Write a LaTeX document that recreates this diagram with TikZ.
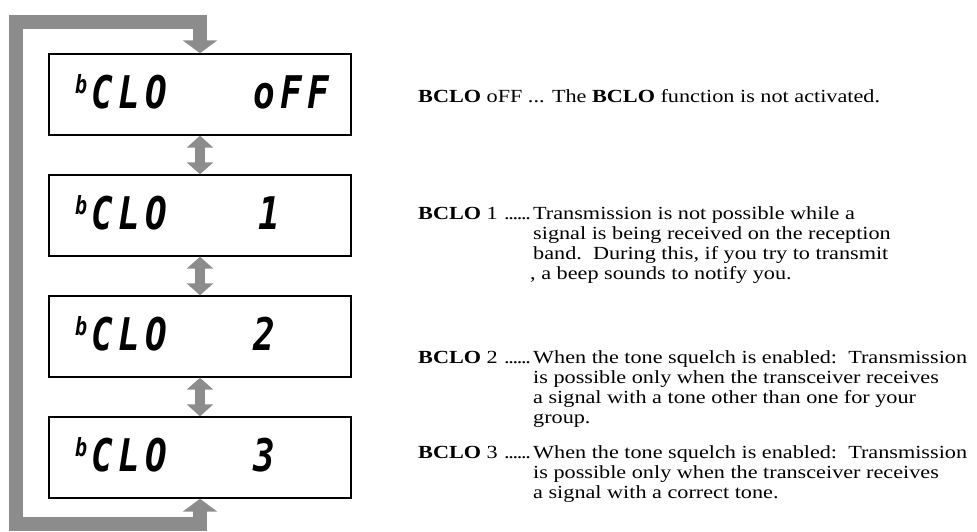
\documentclass[tikz,border=0pt]{standalone}
\usepackage{fontspec}
\setmainfont{Liberation Serif}[FakeStretch=1.2]
\newfontfamily\lcdfont{DejaVu Sans Mono}[FakeStretch=0.8]
\usetikzlibrary{arrows.meta,calc}
\newcommand\lcdslot[1]{\makebox[27pt][l]{#1}}
\newcommand\mydots{.\kern-1.3pt.\kern-1.3pt.\kern-1.3pt.\kern-1.3pt.\kern-1.3pt.}
\tikzset{
  lcdbox/.style={draw, line width=1.4pt, minimum width=302pt, minimum height=81pt, inner sep=0pt},
  lcdtxt/.style={inner sep=0pt, anchor=base west, font=\lcdfont\bfseries\itshape\fontsize{45}{45}\selectfont},
  lcdsmall/.style={inner sep=0pt, anchor=base west, font=\lcdfont\bfseries\itshape\fontsize{25}{25}\selectfont},
  desc/.style={inner sep=0pt, anchor=base west, font=\fontsize{18.5}{20}\selectfont},
  loopline/.style={draw=black!45, line width=14pt, line join=miter,
     {Triangle[width=34pt,length=13pt]}-{Triangle[width=34pt,length=13pt]}},
  dblarrow/.style={draw=black!45, line width=10pt,
     {Triangle[width=26pt,length=12pt]}-{Triangle[width=26pt,length=12pt]}}
}
\begin{document}
\begin{tikzpicture}[x=1pt,y=-1pt]
\useasboundingbox (0,0) rectangle (977,531);
% boxes
\node[lcdbox] (b1) at (200,94.5) {};
\node[lcdbox] (b2) at (200,215.5) {};
\node[lcdbox] (b3) at (200,336.5) {};
\node[lcdbox] (b4) at (200,457.5) {};
% LCD text
\node[lcdsmall] (s1) at (75,93) {b};
\node[lcdtxt] (t1) at (91,108) {\lcdslot{C}\lcdslot{L}\lcdslot{O}\lcdslot{}\lcdslot{}\lcdslot{}\lcdslot{o}\lcdslot{F}\lcdslot{F}};
\node[lcdsmall] (s2) at (75,214) {b};
\node[lcdtxt] (t2) at (91,229) {\lcdslot{C}\lcdslot{L}\lcdslot{O}\lcdslot{}\lcdslot{}\lcdslot{}\lcdslot{\hfill1}};
\node[lcdsmall] (s3) at (75,335) {b};
\node[lcdtxt] (t3) at (91,350) {\lcdslot{C}\lcdslot{L}\lcdslot{O}\lcdslot{}\lcdslot{}\lcdslot{}\lcdslot{2}};
\node[lcdsmall] (s4) at (75,456) {b};
\node[lcdtxt] (t4) at (91,471) {\lcdslot{C}\lcdslot{L}\lcdslot{O}\lcdslot{}\lcdslot{}\lcdslot{}\lcdslot{3}};
% connectors
\coordinate (lb) at (16,524);
\coordinate (lt) at (16,21.5);
\draw[loopline] (b4.south) |- (lb) -- (lt) -| (b1.north);
\draw[dblarrow] (b1.south) -- (b2.north);
\draw[dblarrow] (b2.south) -- (b3.north);
\draw[dblarrow] (b3.south) -- (b4.north);
% descriptions
\node[desc] (d0) at (418,102) {\textbf{BCLO} oFF ... The \textbf{BCLO} function is not activated.};
\node[desc] (h1) at (418,219) {\textbf{BCLO} 1};
\node[desc] (p1) at (504,219) {\mydots};
\node[desc] (d1a) at (533,219) {Transmission is not possible while a};
\node[desc] (d1b) at (533,239) {signal is being received on the reception};
\node[desc] (d1c) at (533,259) {band.\ \ During this, if you try to transmit};
\node[desc] (d1d) at (530,279) {, a beep sounds to notify you.};
\node[desc] (h2) at (418,363) {\textbf{BCLO} 2};
\node[desc] (p2) at (504,363) {\mydots};
\node[desc] (d2a) at (533,363) {When the tone squelch is enabled:\ \ Transmission};
\node[desc] (d2b) at (533,383) {is possible only when the transceiver receives};
\node[desc] (d2c) at (533,403) {a signal with a tone other than one for your};
\node[desc] (d2d) at (533,423) {group.};
\node[desc] (h3) at (418,458) {\textbf{BCLO} 3};
\node[desc] (p3) at (504,458) {\mydots};
\node[desc] (d3a) at (533,458) {When the tone squelch is enabled:\ \ Transmission};
\node[desc] (d3b) at (533,478) {is possible only when the transceiver receives};
\node[desc] (d3c) at (533,498) {a signal with a correct tone.};
\end{tikzpicture}
\end{document}
